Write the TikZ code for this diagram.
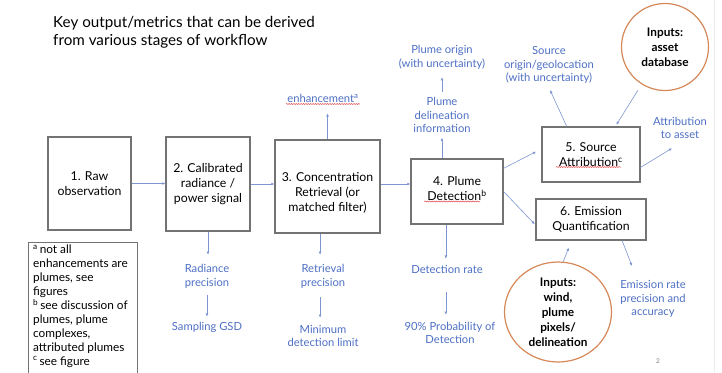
\documentclass[tikz,border=0pt]{standalone}
\usepackage{fontspec}
\setmainfont{Lato}
\usetikzlibrary{calc,arrows.meta,shapes.geometric,decorations.pathmorphing}
\definecolor{lblue}{RGB}{78,112,196}
\definecolor{lline}{RGB}{125,150,210}
\definecolor{boxgray}{RGB}{115,115,115}
\definecolor{orng}{RGB}{214,136,88}
\definecolor{squig}{RGB}{225,70,70}
\begin{document}
\begin{tikzpicture}[x=1pt,y=-1pt,
  stagebox/.style={draw=boxgray, line width=1.1pt, inner sep=0pt},
  stagetext/.style={align=center, inner sep=0pt, text=black, font=\fontsize{12.3}{15}\selectfont},
  bluelbl/.style={text=lblue, align=center, inner sep=0pt, font=\fontsize{11.2}{13.8}\selectfont},
  arr/.style={draw=lline, line width=0.6pt, -{Latex[length=3.2pt,width=2.8pt]}},
  inputcirc/.style={draw=orng, line width=1.2pt, ellipse, inner sep=0pt, align=center, text=black, font=\bfseries\fontsize{11.8}{15}\selectfont},
  squiggle/.style={draw=squig, line width=0.5pt, decorate, decoration={snake, amplitude=0.5pt, segment length=2.4pt}}
]
\useasboundingbox (0,0) rectangle (722,372);
\fill[white] (0,0) rectangle (722,372);
\draw[gray!15, line width=0.8pt] (714,0) -- (714,372);

% title
\node[anchor=west, align=left, inner sep=0pt, font=\fontsize{15.2}{18}\selectfont] (title) at (53,32)
  {Key output/metrics that can be derived\\from various stages of workflow};

% stage boxes
\node[stagebox, minimum width=83pt, minimum height=93pt, stagetext] (b1) at (89.5,183.5) {1. Raw\\observation};
\node[stagebox, minimum width=84pt, minimum height=94pt, stagetext] (b2) at (208,184) {2. Calibrated\\radiance /\\power signal};
\node[stagebox, minimum width=105pt, minimum height=93pt] (b3) at (327.5,186.5) {};
\node[stagetext] (b3t) at (327.5,193) {3. Concentration\\Retrieval (or\\matched filter)};
\node[stagebox, minimum width=92pt, minimum height=65pt] (b4) at (457,191.5) {};
\node[stagetext] (b4t) at (457,189) {4. Plume\\Detection\textsuperscript{b}};
\node[stagebox, minimum width=98pt, minimum height=55pt, stagetext] (b5) at (591,154.5) {5. Source\\Attribution\textsuperscript{c}};
\node[stagebox, minimum width=110pt, minimum height=41pt, stagetext] (b6) at (591,219.5) {6. Emission\\Quantification};

% input circles
\node[inputcirc, minimum width=87pt, minimum height=87pt] (asset) at (665,47) {Inputs:\\asset\\database};
\node[inputcirc, minimum width=107pt, minimum height=100pt] (wind) at (558,312) {Inputs:\\wind,\\plume\\pixels/\\delineation};

% footnote box
\draw[boxgray, line width=0.9pt] (28,242) rectangle (137,380);
\node[anchor=north west, align=left, inner sep=0pt, font=\fontsize{11.8}{13.9}\selectfont] (notes) at (33,245)
  {\textsuperscript{a}\,not all\\enhancements are\\plumes, see\\figures\\\textsuperscript{b}\,see discussion of\\plumes, plume\\complexes,\\attributed plumes\\\textsuperscript{c}\,see figure};

% blue labels
\node[bluelbl] (enh) at (323,98) {enhancement\textsuperscript{a}};
\node[bluelbl] (plorig) at (442,57) {Plume origin\\(with uncertainty)};
\node[bluelbl] (pldel) at (442,115) {Plume\\delineation\\information};
\node[bluelbl] (srcorig) at (549,65) {Source\\origin/geolocation\\(with uncertainty)};
\node[bluelbl] (attr) at (680,128) {Attribution\\to asset};
\node[bluelbl] (radprec) at (207,276) {Radiance\\precision};
\node[bluelbl] (sampgsd) at (207,327) {Sampling GSD};
\node[bluelbl] (retprec) at (323,276) {Retrieval\\precision};
\node[bluelbl] (mdl) at (323,336) {Minimum\\detection limit};
\node[bluelbl] (detrate) at (447,269) {Detection rate};
\node[bluelbl] (pod) at (450,333) {90\% Probability of\\Detection};
\node[bluelbl] (emrate) at (653,299) {Emission rate\\precision and\\accuracy};

% spell-check squiggles
\draw[squiggle] (286,104) -- (360,104);
\draw[squiggle] (424,201.5) -- (480,201.5);
\draw[squiggle] (556,167) -- (621,167);

% main flow
\draw[arr] (b1.east) -- (b1.east -| b2.west);
\draw[arr] (b2.east) -- (b2.east -| b3.west);
\draw[arr] (b3.east |- b2.east) -- (b2.east -| b4.west);
\draw[arr, shorten >=6pt] ($(b4.north east)!0.15!(b4.south east)$) -- ($(b5.north west)!0.4!(b5.south west)$);
\draw[arr, shorten >=1pt] (b4.east) -- ($(b6.north west)!0.63!(b6.south west)$);

% outputs
\draw[arr, shorten >=11pt] (b3.north) -- (b3.north |- enh.south);
\draw[arr, shorten >=4.5pt] ($(b4.north west)!0.338!(b4.north east)$) coordinate (b4n) -- (b4n |- pldel.south);
\draw[arr, shorten <=5pt, shorten >=8pt] (pldel.north) -- (pldel.north |- plorig.south);
\draw[arr] ($(b5.north west)!0.255!(b5.north east)$) -- ($(srcorig.south)+(1,6)$);
\draw[arr, shorten <=7pt, shorten >=2pt] (asset) -- ($(b5.north west)!0.745!(b5.north east)$);
\draw[arr] ($(b5.north east)!0.73!(b5.south east)$) -- ($(attr.south)+(-8,9)$);
\draw[arr, shorten >=9pt] (b2.south) -- (b2.south |- radprec.north);
\draw[arr, shorten <=7pt, shorten >=5pt] (radprec.south) -- (radprec.south |- sampgsd.north);
\draw[arr, shorten >=9pt] ($(b3.south west)!0.43!(b3.south east)$) coordinate (b3s) -- (b3s |- retprec.north);
\draw[arr, shorten <=9pt, shorten >=7pt] (b3s |- retprec.south) -- (b3s |- mdl.north);
\draw[arr, shorten >=6pt] ($(b4.south west)!0.38!(b4.south east)$) coordinate (b4s) -- (b4s |- detrate.north);
\draw[arr, shorten <=19pt, shorten >=7pt] (b4s |- detrate.south) -- (b4s |- pod.north);
\draw[arr] ($(b6.south west)!0.78!(b6.south east)$) -- ($(emrate.north)+(-21,-14)$);
\draw[arr] (wind.84) -- ($(b6.south west)!0.3!(b6.south east)+(0,7)$);

% page number
\node[text=gray, font=\fontsize{6.5}{8}\selectfont, inner sep=0pt] (pnum) at (658,361) {2};
\end{tikzpicture}
\end{document}
